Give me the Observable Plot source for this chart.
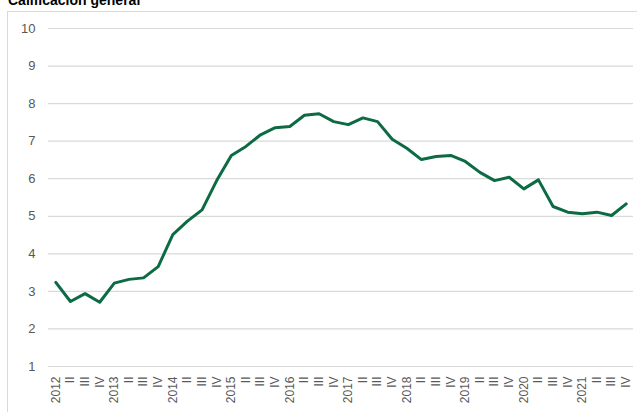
<!DOCTYPE html>
<html>
<head>
<meta charset="utf-8">
<script src="https://cdn.jsdelivr.net/npm/d3@7"></script>
<script src="https://cdn.jsdelivr.net/npm/@observablehq/plot@0.6"></script>
<style>
  html, body { margin: 0; padding: 0; background: #fff; overflow: hidden; }
  #wrap { position: relative; width: 637px; height: 412px; overflow: hidden; }
  #title { position: absolute; left: 8px; top: -7px; font: bold 14px "Liberation Sans", Arial, sans-serif; line-height: 14px; color: #000; white-space: nowrap; }
  #frame { position: absolute; left: 7px; top: 11px; width: 660px; height: 440px; border: 1px solid #d9d9d9; box-sizing: border-box; }
  #chart { position: absolute; left: 0; top: 0; }
</style>
</head>
<body>
<div id="wrap">
  <div id="frame"></div>
  <div id="title">Calificación general</div>
  <div id="chart"></div>
</div>
<script>
const years = [2012, 2013, 2014, 2015, 2016, 2017, 2018, 2019, 2020, 2021];
const quarterLabels = ["I", "II", "III", "IV"];
const values = [
  3.24, 2.73, 2.94, 2.71,
  3.22, 3.32, 3.36, 3.66,
  4.51, 4.87, 5.17, 5.95,
  6.62, 6.86, 7.17, 7.36,
  7.39, 7.69, 7.73, 7.52,
  7.44, 7.62, 7.52, 7.05,
  6.81, 6.51, 6.59, 6.62,
  6.46, 6.17, 5.95, 6.04,
  5.73, 5.97, 5.26, 5.11,
  5.07, 5.11, 5.02, 5.33
];
const yTicks = [1, 2, 3, 4, 5, 6, 7, 8, 9, 10];

const data = values.map((v, i) => ({i, v}));
const label = i => i % 4 === 0 ? String(years[i / 4]) : quarterLabels[i % 4];

const chart = Plot.plot({
  width: 637,
  height: 412,
  marginLeft: 48,
  marginRight: 4,
  marginTop: 28,
  marginBottom: 46,
  style: {fontFamily: "'Liberation Sans', Arial, sans-serif", fontSize: "12px", color: "#595959", background: "transparent"},
  x: {domain: [-0.5, 39.5], ticks: d3.range(40), tickFormat: label, tickSize: 0, tickPadding: 10, tickRotate: -90, label: null},
  y: {domain: [1, 10], ticks: yTicks, tickSize: 0, tickPadding: 13, label: null},
  marks: [
    Plot.ruleY(yTicks, {stroke: "#d9d9d9", strokeWidth: 1.2}),
    Plot.line(data, {x: "i", y: "v", stroke: "#0d6b44", strokeWidth: 3, strokeLinejoin: "round"})
  ]
});
chart.querySelectorAll("g[aria-label='y-axis tick label'] text, g[aria-label='y-axis tick label']").forEach(e => e.setAttribute("font-size", "13"));
document.getElementById("chart").appendChild(chart);
</script>
</body>
</html>
